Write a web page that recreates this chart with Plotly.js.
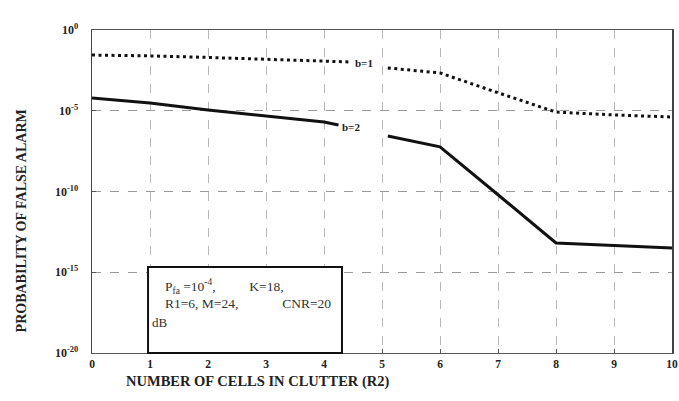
<!DOCTYPE html>
<html>
<head>
<meta charset="utf-8">
<script src="https://cdn.plot.ly/plotly-3.0.1.min.js"></script>
<style>html,body{margin:0;padding:0;background:#fff;}#chart{width:679px;height:401px;}</style>
</head>
<body>
<div id="chart"></div>
<script>
// Data (null marks the break in each drawn curve)
const cellsB1 = [0, 1, 2, 3, 4, 4.45, null, 5.1, 6, 7, 8, 9, 10];
const pfaB1   = [2.8e-2, 2.5e-2, 2.0e-2, 1.6e-2, 1.2e-2, 1.05e-2, null, 4.5e-3, 2.2e-3, 1.3e-4, 8.3e-6, 5.5e-6, 4.1e-6];
const cellsB2 = [0, 1, 2, 3, 4, 4.25, null, 5.1, 6, 7, 8, 9, 10];
const pfaB2   = [6.2e-5, 3.0e-5, 1.1e-5, 4.7e-6, 2.0e-6, 1.3e-6, null, 2.75e-7, 5.8e-8, 6.3e-11, 6.5e-14, 4.6e-14, 3.2e-14];
const seriesNames = ["b=1", "b=2"];
const xTicks = [0,1,2,3,4,5,6,7,8,9,10];
const xTickText = ["0","1","2","3","4","5","6","7","8","9","10"];
const yTicks = [1e0, 1e-5, 1e-10, 1e-15, 1e-20];
const yTickText = ["10<sup>0</sup>", "10<sup>-5</sup>", "10<sup>-10</sup>", "10<sup>-15</sup>", "10<sup>-20</sup>"];

const serif = "Liberation Serif, Times New Roman, serif";
const sp = n => "&nbsp;".repeat(n);

const traces = [
  {x: cellsB1, y: pfaB1, name: seriesNames[0], mode: "lines", connectgaps: false,
   line: {color: "#111", width: 3, dash: "3px,3.5px"}},
  {x: cellsB2, y: pfaB2, name: seriesNames[1], mode: "lines", connectgaps: false,
   line: {color: "#111", width: 3}}
];

const layout = {
  width: 679, height: 401,
  margin: {l: 92, r: 7, t: 30, b: 48},
  paper_bgcolor: "#fff", plot_bgcolor: "#fff",
  showlegend: false,
  font: {family: serif, color: "#222", size: 11},
  xaxis: {
    range: [0, 10], tickvals: xTicks, ticktext: xTickText,
    showgrid: true, gridcolor: "#b8b8b8", griddash: "dash", gridwidth: 1,
    zeroline: false, showline: true, linecolor: "#555", linewidth: 1.2, mirror: true,
    ticks: "inside", ticklen: 4, tickcolor: "#555",
    tickfont: {family: serif, size: 11.5, color: "#222", weight: "bold"}
  },
  yaxis: {
    type: "log", range: [-20, 0], tickvals: yTicks, ticktext: yTickText,
    showgrid: true, gridcolor: "#9a9a9a", griddash: "dash", gridwidth: 1,
    zeroline: false, showline: true, linecolor: "#444", linewidth: 1.5, mirror: true,
    ticks: "inside", ticklen: 4, tickcolor: "#555", ticklabelstandoff: 10,
    tickfont: {family: serif, size: 12, color: "#222", weight: "bold"}
  },
  shapes: [
    {type: "rect", xref: "paper", yref: "paper", x0: 0.0966, x1: 0.431, y0: 0.0, y1: 0.266,
     line: {color: "#111", width: 2}, fillcolor: "#fff", layer: "above"}
  ],
  annotations: [
    {xref: "x", yref: "y", x: 4.5, y: Math.log10(9e-3), text: "b=1", showarrow: false,
     xanchor: "left", font: {family: serif, size: 11, color: "#222", weight: "bold"}},
    {xref: "x", yref: "y", x: 4.28, y: Math.log10(1.0e-6), text: "b=2", showarrow: false,
     xanchor: "left", font: {family: serif, size: 11, color: "#222", weight: "bold"}},
    {xref: "paper", yref: "paper", x: 0.122, y: 0.24, xanchor: "left", yanchor: "top", align: "left",
     showarrow: false,
     text: "P<sub>fa</sub> =10<sup>-4</sup>," + sp(10) + "K=18,<br>R1=6, M=24," + sp(13) + "CNR=20",
     font: {family: serif, size: 13.5, color: "#333"}},
    {xref: "paper", yref: "paper", x: 0.1, y: 0.125, xanchor: "left", yanchor: "top",
     showarrow: false, text: "dB", font: {family: serif, size: 13, color: "#333"}},
    {xref: "paper", yref: "paper", x: -0.121, y: 0.41, xanchor: "center", yanchor: "middle",
     textangle: -90, showarrow: false,
     text: "PROBABILITY OF FALSE ALARM", font: {family: serif, size: 14, color: "#222", weight: "bold"}},
    {xref: "paper", yref: "paper", x: 0.286, y: -0.087, xanchor: "center", yanchor: "middle", showarrow: false,
     text: "NUMBER OF CELLS IN CLUTTER (R2)", font: {family: serif, size: 14.5, color: "#222", weight: "bold"}}
  ]
};

Plotly.newPlot("chart", traces, layout, {displayModeBar: false, staticPlot: true});
</script>
</body>
</html>
